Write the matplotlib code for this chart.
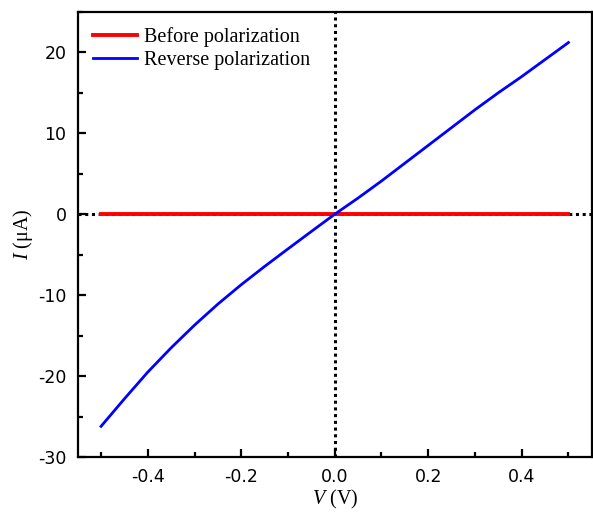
import numpy as np
import matplotlib
matplotlib.use("Agg")
import matplotlib.pyplot as plt
from matplotlib.ticker import MultipleLocator

plt.rcParams["mathtext.fontset"] = "custom"
plt.rcParams["mathtext.it"] = "Liberation Serif:italic"
plt.rcParams["mathtext.rm"] = "Liberation Serif"

# I–V data (V in volts, I in microamps)
voltage = [-0.50, -0.45, -0.40, -0.35, -0.30, -0.25, -0.20, -0.15, -0.10, -0.05,
           0.00, 0.05, 0.10, 0.15, 0.20, 0.25, 0.30, 0.35, 0.40, 0.45, 0.50]
current_before = [0.0] * len(voltage)
current_reverse = [-26.2, -22.8, -19.5, -16.5, -13.7, -11.1, -8.7, -6.45, -4.28, -2.13,
                   0.0, 2.0, 4.1, 6.3, 8.5, 10.7, 12.9, 15.0, 17.0, 19.1, 21.2]

series_labels = ["Before polarization", "Reverse polarization"]
xticks = [-0.4, -0.2, 0.0, 0.2, 0.4]
yticks = [-30, -20, -10, 0, 10, 20]

fig = plt.figure(figsize=(5.93, 5.13), dpi=100)
ax = fig.add_axes([0.131, 0.109, 0.867, 0.868])

# dotted reference axes through the origin
ax.axhline(0, color="black", lw=2.2, ls=(0, (1, 1.2)), zorder=1)
ax.axvline(0, color="black", lw=2.2, ls=(0, (1, 1.2)), zorder=1)

ax.plot(voltage, current_before, color="#ff0000", lw=2.8, label=series_labels[0], zorder=3)
ax.plot(voltage, current_reverse, color="#0000ff", lw=2.0, label=series_labels[1], zorder=4)

ax.set_xlim(-0.55, 0.55)
ax.set_ylim(-30, 25)
ax.set_xticks(xticks)
ax.set_yticks(yticks)
ax.set_xticklabels([f"{t:.1f}" for t in xticks])
ax.set_yticklabels([str(t) for t in yticks])
ax.xaxis.set_minor_locator(MultipleLocator(0.1))
ax.yaxis.set_minor_locator(MultipleLocator(5))

ax.tick_params(which="both", direction="in", width=1.6, labelsize=12.5)
ax.tick_params(which="major", length=6)
ax.tick_params(which="minor", length=3.5)
ax.tick_params(axis="x", pad=8)
ax.tick_params(axis="y", pad=8)
for sp in ax.spines.values():
    sp.set_linewidth(1.6)

serif = "Liberation Serif"
ax.set_xlabel(r"$\mathit{V}$ (V)", fontsize=14.5, family=serif, labelpad=1)
ax.set_ylabel(r"$\mathit{I}$ (μA)", fontsize=14.5, family=serif, labelpad=2)

leg = ax.legend(loc="upper left", frameon=False, prop={"family": serif, "size": 14.5},
                handlelength=2.2, handletextpad=0.35, labelspacing=0.2,
                borderaxespad=0.35)

fig.savefig("out.png", dpi=100)
